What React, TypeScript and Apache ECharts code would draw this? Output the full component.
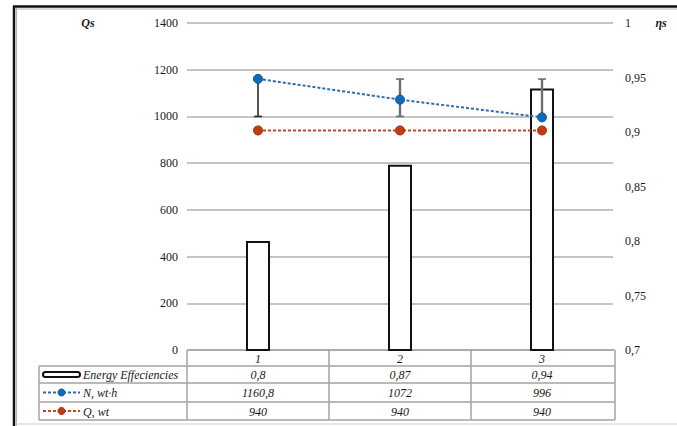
import React, { useEffect, useRef } from "react";
import * as echarts from "echarts";

const categories = ["1", "2", "3"];
const efficiency = [0.8, 0.87, 0.94];
const nValues = [1160.8, 1072, 996];
const qValues = [940, 940, 940];
const errLow = [1000, 1000, 1000];
const errHigh = [1160, 1160, 1160];
const errColors = ["#2b2b2b", "#6e6e6e", "#6e6e6e"];
const rowLabels = ["Energy Effeciencies", "N, wt·h", "Q, wt"];

const FONT = "'Liberation Serif', 'Times New Roman', serif";
const BLUE = "#2e6db4";
const BLUE_M = "#0a6cc0";
const RED = "#c8471c";
const RED_M = "#c63a10";
const fmt = (v: number) => String(v).replace(".", ",");

export default function App() {
  const ref = useRef<HTMLDivElement>(null);
  useEffect(() => {
    const chart = echarts.init(ref.current!, undefined, { renderer: "svg" });
    const gridLeft = 187;
    const gridRight = 613;
    const gridTop = 23;
    const gridBottom = 350;
    const option: any = {
      animation: false,
      backgroundColor: "#fff",
      grid: { left: gridLeft, right: 677 - gridRight, top: gridTop, bottom: 426 - gridBottom, containLabel: false },
      xAxis: {
        type: "category",
        data: categories,
        axisLine: { show: false },
        axisTick: { show: false },
        axisLabel: { show: false },
      },
      yAxis: [
        {
          type: "value",
          min: 0,
          max: 1400,
          interval: 200,
          axisLine: { show: false },
          axisTick: { show: false },
          splitLine: { lineStyle: { color: "#c4c4c4", width: 2 } },
          axisLabel: { margin: 9, color: "#1a1a1a", fontFamily: FONT, fontSize: 12, formatter: (v: number) => String(v) },
        },
        {
          type: "value",
          min: 0.7,
          max: 1,
          interval: 0.05,
          axisLine: { show: false },
          axisTick: { show: false },
          splitLine: { show: false },
          axisLabel: {
            margin: 12,
            color: "#1a1a1a",
            fontFamily: FONT,
            fontSize: 12,
            formatter: (v: number) => fmt(+v.toFixed(2)),
          },
        },
      ],
      series: [
        {
          type: "bar",
          name: rowLabels[0],
          yAxisIndex: 1,
          data: efficiency,
          barWidth: 24,
          itemStyle: { color: "#fff", borderColor: "#111", borderWidth: 2 },
          z: 2,
        },
        {
          type: "custom",
          yAxisIndex: 0,
          z: 3,
          data: categories.map((_, i) => [i, errLow[i], errHigh[i]]),
          renderItem: (params: any, api: any) => {
            const i = api.value(0);
            const lo = api.coord([i, api.value(1)]);
            const hi = api.coord([i, api.value(2)]);
            const c = errColors[params.dataIndex];
            const w = 4;
            const st = { stroke: c, lineWidth: params.dataIndex === 0 ? 1.6 : 2.4 };
            return {
              type: "group",
              children: [
                { type: "line", shape: { x1: lo[0], y1: lo[1], x2: hi[0], y2: hi[1] }, style: st },
                { type: "line", shape: { x1: lo[0] - w, y1: lo[1], x2: lo[0] + w, y2: lo[1] }, style: { stroke: c, lineWidth: 1.6 } },
                { type: "line", shape: { x1: hi[0] - w, y1: hi[1], x2: hi[0] + w, y2: hi[1] }, style: { stroke: c, lineWidth: 1.6 } },
              ],
            };
          },
        },
        {
          type: "line",
          name: rowLabels[1],
          yAxisIndex: 0,
          data: nValues,
          z: 4,
          symbol: "circle",
          symbolSize: 9,
          lineStyle: { color: BLUE, width: 2, type: [3, 2] },
          itemStyle: { color: BLUE_M, borderColor: "#1d4f85", borderWidth: 1 },
        },
        {
          type: "line",
          name: rowLabels[2],
          yAxisIndex: 0,
          data: qValues,
          z: 4,
          symbol: "circle",
          symbolSize: 9,
          lineStyle: { color: RED, width: 2, type: [3, 2] },
          itemStyle: { color: RED_M, borderColor: "#9a2a08", borderWidth: 1 },
        },
      ],
    };
    chart.setOption(option);

    const centers = categories.map((_, i) => chart.convertToPixel({ xAxisIndex: 0 }, i) as number);
    const colW = (gridRight - gridLeft) / categories.length;
    const tblLeft = 39;
    const rowY = [350, 366, 383, 402, 420];
    const gray = "#a3a3a3";
    const g: any[] = [];
    const line = (x1: number, y1: number, x2: number, y2: number, stroke = gray, lw = 1.5, dash?: any) =>
      g.push({ type: "line", shape: { x1, y1, x2, y2 }, style: { stroke, lineWidth: lw, lineDash: dash }, silent: true });
    const text = (x: number, y: number, t: string, align = "center", extra: any = {}) =>
      g.push({
        type: "text",
        x,
        y,
        style: { text: t, align, verticalAlign: "middle", font: `italic 12px ${FONT}`, fill: "#1a1a1a", ...extra },
        silent: true,
      });

    // frame
    line(14, 6, 14, 426, "#111", 2.5);
    line(13, 6.5, 677, 6.5, "#111", 2.5);
    line(16.5, 8, 16.5, 426, "#b5b5b5", 1.2);
    line(16, 9, 677, 9, "#b5b5b5", 1.2);
    line(16, 424, 677, 424, "#d0d0d0", 1.2);

    // table lines
    line(gridLeft, rowY[0], gridRight + 2, rowY[0]);
    for (let r = 1; r < rowY.length; r++) line(tblLeft, rowY[r], gridRight + 2, rowY[r]);
    line(tblLeft, rowY[1], tblLeft, rowY[4]);
    for (let c = 0; c <= categories.length; c++) {
      const x = gridLeft + c * colW + (c === categories.length ? 2 : 0);
      line(x, rowY[0], x, rowY[4]);
    }

    // header
    categories.forEach((c, i) => text(centers[i], (rowY[0] + rowY[1]) / 2 + 1, c));
    const rows = [efficiency.map(fmt), nValues.map(fmt), qValues.map(fmt)];
    rows.forEach((vals, r) => {
      const cy = (rowY[r + 1] + rowY[r + 2]) / 2 + 0.5;
      vals.forEach((v, i) => text(centers[i], cy, v));
    });

    // legend keys
    const kx1 = 43, kx2 = 80;
    const ky = [(rowY[1] + rowY[2]) / 2, (rowY[2] + rowY[3]) / 2, (rowY[3] + rowY[4]) / 2];
    g.push({ type: "rect", shape: { x: kx1, y: ky[0] - 2.5, width: kx2 - kx1, height: 5, r: 2.5 }, style: { fill: "#fff", stroke: "#111", lineWidth: 2 }, silent: true });
    line(kx1, ky[1], kx2, ky[1], BLUE, 2, [3, 2]);
    g.push({ type: "circle", shape: { cx: (kx1 + kx2) / 2, cy: ky[1], r: 3.5 }, style: { fill: BLUE_M, stroke: "#1d4f85", lineWidth: 1 }, silent: true });
    line(kx1, ky[2], kx2, ky[2], RED, 2, [3, 2]);
    g.push({ type: "circle", shape: { cx: (kx1 + kx2) / 2, cy: ky[2], r: 3.5 }, style: { fill: RED_M, stroke: "#9a2a08", lineWidth: 1 }, silent: true });
    rowLabels.forEach((l, r) => text(kx2 + 3, ky[r] + 0.5, l, "left"));

    // axis names
    text(88, gridTop, "Qs", "center", { font: `italic bold 12px ${FONT}` });
    text(661, gridTop, "ηs", "center", { font: `italic bold 12px ${FONT}` });

    chart.setOption({ graphic: { elements: g } });
    return () => chart.dispose();
  }, []);
  return <div ref={ref} style={{ width: 677, height: 426, position: "absolute", left: 0, top: 0 }} />;
}
